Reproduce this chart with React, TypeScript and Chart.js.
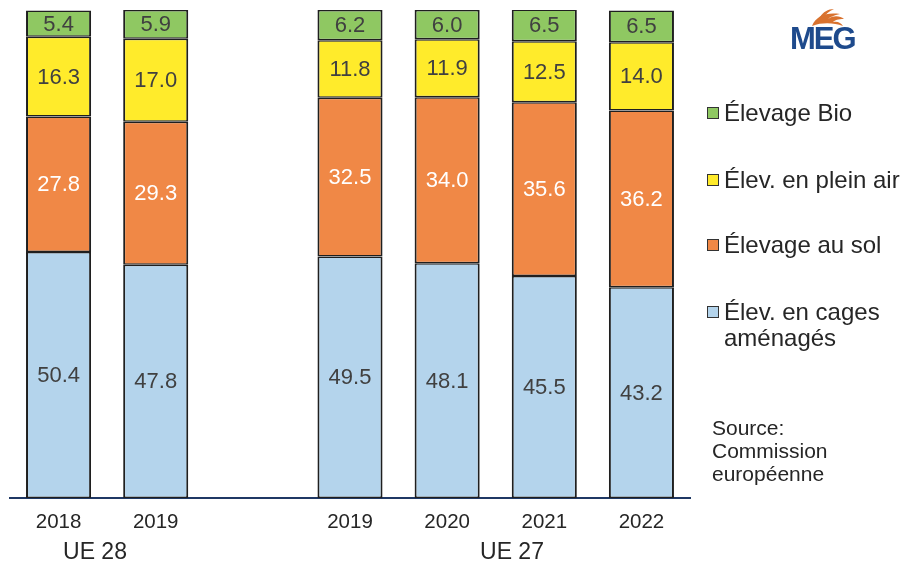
import React, { useEffect, useRef } from "react";
import { Chart, registerables } from "chart.js";

Chart.register(...registerables);

const categories = ["2018", "2019", "", "2019", "2020", "2021", "2022"];
const cages = [50.4, 47.8, null, 49.5, 48.1, 45.5, 43.2];
const sol = [27.8, 29.3, null, 32.5, 34.0, 35.6, 36.2];
const pleinAir = [16.3, 17.0, null, 11.8, 11.9, 12.5, 14.0];
const bio = [5.4, 5.9, null, 6.2, 6.0, 6.5, 6.5];

const seriesNames = ["Élev. en cages aménagés", "Élevage au sol", "Élev. en plein air", "Élevage Bio"];
const groupLabels = ["UE 28", "UE 27"];
const sourceLines = ["Source:", "Commission", "européenne"];

const COLORS = {
  cages: "#B4D4EC",
  sol: "#F08846",
  plein: "#FFEB2B",
  bio: "#8FC862",
};
const FONT = '"Liberation Sans", Arial, sans-serif';

const valueLabels = {
  id: "valueLabels",
  afterDatasetsDraw(chart: any) {
    const ctx = chart.ctx;
    ctx.save();
    ctx.font = `22px ${FONT}`;
    ctx.textAlign = "center";
    ctx.textBaseline = "middle";
    chart.data.datasets.forEach((ds: any, di: number) => {
      const meta = chart.getDatasetMeta(di);
      meta.data.forEach((el: any, i: number) => {
        const v = ds.data[i];
        if (v === null || v === undefined) return;
        const p = el.getProps(["x", "y", "base"], true);
        ctx.fillStyle = ds.labelColor;
        ctx.fillText(v.toFixed(1), p.x, (p.y + p.base) / 2 + 1);
      });
    });
    ctx.restore();
  },
};

function App() {
  const ref = useRef<HTMLCanvasElement>(null);
  useEffect(() => {
    document.body.style.margin = "0";
    const common = {
      borderColor: "#1F1F1F",
      borderWidth: { left: 2, right: 2, top: 1.5, bottom: 1.5 },
      borderSkipped: false,
      barPercentage: 0.67,
      categoryPercentage: 1,
    };
    const chart = new Chart(ref.current!, {
      type: "bar",
      data: {
        labels: categories,
        datasets: [
          { label: seriesNames[0], data: cages, backgroundColor: COLORS.cages, labelColor: "#404040", ...common } as any,
          { label: seriesNames[1], data: sol, backgroundColor: COLORS.sol, labelColor: "#FFFFFF", ...common } as any,
          { label: seriesNames[2], data: pleinAir, backgroundColor: COLORS.plein, labelColor: "#404040", ...common } as any,
          { label: seriesNames[3], data: bio, backgroundColor: COLORS.bio, labelColor: "#404040", ...common } as any,
        ],
      },
      options: {
        animation: false,
        responsive: false,
        layout: { padding: { left: 10, right: 227, top: 10, bottom: 0 } },
        plugins: { legend: { display: false }, tooltip: { enabled: false } },
        scales: {
          x: {
            stacked: true,
            grid: { display: false, drawTicks: false },
            border: { display: true, color: "#1F3864", width: 2 },
            ticks: { color: "#262626", font: { family: FONT, size: 20.5 }, padding: 12, maxRotation: 0 },
            afterFit: (scale: any) => {
              scale.height = 66;
            },
          },
          y: { stacked: true, display: false, min: 0, max: 100 },
        },
      },
      plugins: [valueLabels],
    });
    return () => chart.destroy();
  }, []);

  const legendItems = [
    { color: COLORS.bio, lines: [seriesNames[3]], y: 113 },
    { color: COLORS.plein, lines: [seriesNames[2]], y: 180 },
    { color: COLORS.sol, lines: [seriesNames[1]], y: 245 },
    { color: COLORS.cages, lines: ["Élev. en cages", "aménagés"], y: 312 },
  ];

  return (
    <div style={{ position: "relative", width: 917, height: 564, fontFamily: FONT, color: "#262626", overflow: "hidden" }}>
      <canvas ref={ref} width={917} height={564} style={{ position: "absolute", left: 0, top: 0 }} />
      {legendItems.map((it, i) => (
        <div key={i} style={{ position: "absolute", left: 707, top: it.y - 13, fontSize: 24, lineHeight: "26px" }}>
          <span
            style={{
              position: "absolute",
              left: 0,
              top: 7,
              width: 10,
              height: 10,
              background: it.color,
              border: "1.5px solid #333",
            }}
          />
          <div style={{ marginLeft: 17, whiteSpace: "nowrap" }}>
            {it.lines.map((l, j) => (
              <div key={j}>{l}</div>
            ))}
          </div>
        </div>
      ))}
      <div style={{ position: "absolute", left: 712, top: 416, fontSize: 21, lineHeight: "23px" }}>
        {sourceLines.map((l, j) => (
          <div key={j}>{l}</div>
        ))}
      </div>
      <div style={{ position: "absolute", left: 95 - 60, width: 120, top: 538, fontSize: 23, textAlign: "center" }}>{groupLabels[0]}</div>
      <div style={{ position: "absolute", left: 512 - 60, width: 120, top: 538, fontSize: 23, textAlign: "center" }}>{groupLabels[1]}</div>
      <div style={{ position: "absolute", left: 788, top: 4, width: 72, height: 50 }}>
        <svg width="72" height="22" style={{ position: "absolute", left: 0, top: 2 }} viewBox="0 0 72 22">
          <path d="M24 20 C28 10, 38 6, 52 8 C46 9, 42 11, 40 13 C46 9, 52 10, 56 13 C50 13, 47 14, 45 16 C50 15, 53 17, 55 20 C46 17, 35 16, 24 20 Z" fill="#D9722E" />
          <path d="M32 11 C35 6, 40 3, 46 3 C41 5, 38 8, 36 11 Z" fill="#D9722E" />
        </svg>
        <div style={{ position: "absolute", left: 2, top: 17, fontSize: 31, fontWeight: 700, color: "#1E4A8C", letterSpacing: -2, fontFamily: FONT }}>MEG</div>
      </div>
    </div>
  );
}

export default App;
